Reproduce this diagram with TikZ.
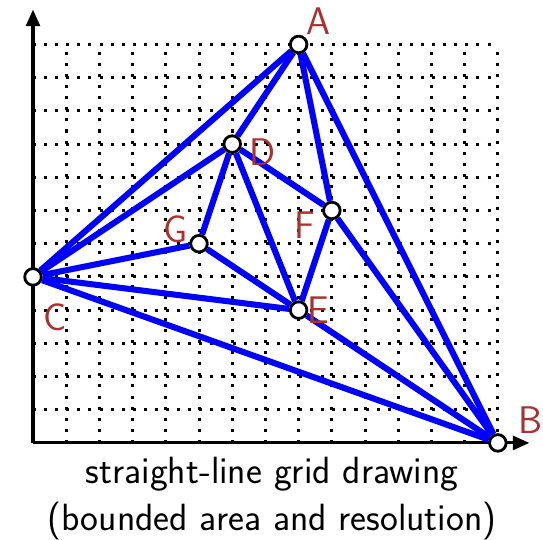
\documentclass[tikz,border=0pt]{standalone}
\usepackage{tikz}
\usetikzlibrary{positioning,arrows.meta,backgrounds}
\definecolor{edgeblue}{HTML}{0000FF}
\definecolor{vlab}{HTML}{A83232}

\begin{document}
\begin{tikzpicture}[
  x=1cm, y=1cm,
  font=\sffamily,
  >={Triangle[length=5mm,width=4.2mm]},
  axis/.style={->, line width=2.6pt, draw=black},
  gridline/.style={line width=2.6pt, draw=black,
                   dash pattern=on 2.6pt off 6.9pt},
  vertex/.style={draw=black, fill=white, line width=2.4pt,
                 circle, minimum size=5mm, inner sep=0pt},
  link/.style={line width=5.2pt, draw=edgeblue},
  vlabel/.style={font=\fontsize{33}{40}\selectfont\sffamily,
                 text=vlab, inner sep=0pt},
  caption/.style={font=\fontsize{32.5}{40}\selectfont\sffamily,
                  align=center, inner sep=0pt},
]
\useasboundingbox (-0.994,-2.92) rectangle (15.36,13.34);

% vertices
\node[vertex, label={[vlabel,xshift=6mm,yshift=7mm]center:A}] (A) at (8,12) {};
\node[vertex, label={[vlabel,xshift=9.7mm,yshift=6.9mm]center:B}] (B) at (14,0) {};
\node[vertex, label={[vlabel,xshift=6.6mm,yshift=-12.3mm]center:C}] (C) at (0,5) {};
\node[vertex, label={[vlabel,xshift=9mm,yshift=-2.4mm]center:D}] (D) at (6,9) {};
\node[vertex, label={[vlabel,xshift=6mm]center:E}] (E) at (8,4) {};
\node[vertex, label={[vlabel,xshift=-8mm,yshift=-4.3mm]center:F}] (F) at (9,7) {};
\node[vertex, label={[vlabel,xshift=-7.2mm,yshift=4.2mm]center:G}] (G) at (5,6) {};

\begin{scope}[on background layer]
% dotted grid
\foreach \gx in {1,...,14}
  \draw[gridline] (\gx,0) -- (\gx,12);
\foreach \gy in {1,...,12}
  \draw[gridline] (0,\gy) -- (14,\gy);

\draw[axis] (0,0) -- (14.95,0);
\draw[axis] (0,0) -- (0,13.05);

% edges
\draw[link] (A) -- (C);
\draw[link] (A) -- (D);
\draw[link] (A) -- (F);
\draw[link] (A) -- (B);
\draw[link] (D) -- (C);
\draw[link] (D) -- (G);
\draw[link] (D) -- (F);
\draw[link] (D) -- (E);
\draw[link] (G) -- (C);
\draw[link] (G) -- (E);
\draw[link] (C) -- (E);
\draw[link] (C) -- (B);
\draw[link] (F) -- (E);
\draw[link] (F) -- (B);
\draw[link] (E) -- (B);
\end{scope}

\node[caption] (cap) at (7.2,-1.67)
  {straight-line grid drawing\\ (bounded area and resolution)};
\end{tikzpicture}
\end{document}
